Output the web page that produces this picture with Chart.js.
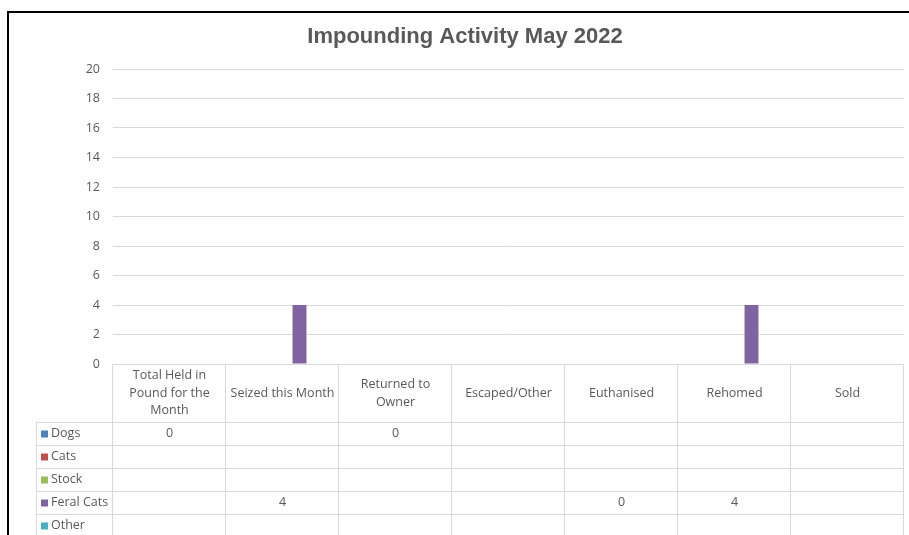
<!DOCTYPE html>
<html>
<head>
<meta charset="utf-8">
<title>Impounding Activity May 2022</title>
<script src="https://cdn.jsdelivr.net/npm/chart.js@4/dist/chart.umd.min.js"></script>
<style>
  html, body { margin: 0; padding: 0; background: #fff; }
  #wrap { position: relative; width: 909px; height: 535px; overflow: hidden; }
  #frame { position: absolute; left: 7px; top: 11px; right: -4px; bottom: -4px;
           border-top: 2px solid #000; border-left: 2px solid #000; pointer-events: none; }
  canvas { position: absolute; left: 0; top: 0; }
</style>
</head>
<body>
<div id="wrap">
  <canvas id="c" width="909" height="535"></canvas>
  <div id="frame"></div>
</div>
<script>
// Monthly impounding figures
const chartTitle = "Impounding Activity May 2022";
const categories = [
  ["Total Held in", "Pound for the", "Month"],
  "Seized this Month",
  ["Returned to", "Owner"],
  "Escaped/Other",
  "Euthanised",
  "Rehomed",
  "Sold"
];
const seriesNames = ["Dogs", "Cats", "Stock", "Feral Cats", "Other"];
const dogs      = [0, null, 0, null, null, null, null];
const cats      = [null, null, null, null, null, null, null];
const stock     = [null, null, null, null, null, null, null];
const feralCats = [null, 4, null, null, 0, 4, null];
const other     = [null, null, null, null, null, null, null];
const yTicks    = [0, 2, 4, 6, 8, 10, 12, 14, 16, 18, 20];

const seriesColors = ["#4F81BD", "#C0504D", "#9BBB59", "#8064A2", "#4BACC6"];
const textColor = "#595959";
const lineColor = "#d9d9d9";
const tableFont = "12.5px 'Open Sans', sans-serif";

const seriesValues = [dogs, cats, stock, feralCats, other];

// Title centred on the chart frame, which extends past the right edge
const frameTitle = {
  id: "frameTitle",
  afterDraw(chart) {
    const ctx = chart.ctx;
    ctx.save();
    ctx.font = "bold 22px 'Liberation Sans', Arial, sans-serif";
    ctx.fillStyle = textColor;
    ctx.textAlign = "center";
    ctx.textBaseline = "middle";
    ctx.fillText(chartTitle, 465, 37);
    ctx.restore();
  }
};

// Data table drawn beneath the plot area, aligned to the category scale
const dataTable = {
  id: "dataTable",
  afterDraw(chart) {
    const ctx = chart.ctx;
    const area = chart.chartArea;
    const xs = chart.scales.x;
    const n = categories.length;
    const colW = (area.right - area.left) / n;
    const top = area.bottom;
    const headerH = 57.5;
    const rowH = 23;
    const legendLeft = 36;
    const bottom = chart.height;

    ctx.save();
    ctx.strokeStyle = lineColor;
    ctx.lineWidth = 1;

    // horizontal rules
    for (let r = 0; r <= seriesNames.length; r++) {
      const y = Math.round(top + headerH + r * rowH) + 0.5;
      ctx.beginPath();
      ctx.moveTo(legendLeft, y);
      ctx.lineTo(area.right, y);
      ctx.stroke();
    }
    // vertical rules
    ctx.beginPath();
    ctx.moveTo(legendLeft + 0.5, Math.round(top + headerH));
    ctx.lineTo(legendLeft + 0.5, bottom);
    ctx.stroke();
    for (let i = 0; i <= n; i++) {
      const x = Math.round(xs.getPixelForValue(0) - colW / 2 + i * colW) - 0.5;
      ctx.beginPath();
      ctx.moveTo(x, top);
      ctx.lineTo(x, bottom);
      ctx.stroke();
    }

    ctx.font = tableFont;
    ctx.fillStyle = textColor;
    ctx.textAlign = "center";
    ctx.textBaseline = "middle";

    // header labels
    const lineH = 17.5;
    categories.forEach((lab, i) => {
      const lines = Array.isArray(lab) ? lab : [lab];
      const cx = xs.getPixelForValue(i);
      const cy = top + headerH / 2 + 0.5;
      lines.forEach((t, k) => {
        ctx.fillText(t, cx, cy + (k - (lines.length - 1) / 2) * lineH);
      });
    });

    // series rows: legend key + values
    seriesNames.forEach((name, r) => {
      const cy = top + headerH + r * rowH + rowH / 2 + 0.5;
      ctx.fillStyle = seriesColors[r];
      ctx.fillRect(41, Math.round(cy) - 3.5, 7, 7);
      ctx.fillStyle = textColor;
      ctx.textAlign = "left";
      ctx.fillText(name, 51, cy);
      ctx.textAlign = "center";
      seriesValues[r].forEach((v, i) => {
        if (v !== null && v !== undefined) {
          ctx.fillText(String(v), xs.getPixelForValue(i), cy);
        }
      });
    });
    ctx.restore();
  }
};

new Chart(document.getElementById("c"), {
  type: "bar",
  data: {
    labels: categories,
    datasets: seriesNames.map((name, i) => ({
      label: name,
      data: seriesValues[i],
      backgroundColor: seriesColors[i],
      borderWidth: 0,
      categoryPercentage: 0.752,
      barPercentage: 0.82
    }))
  },
  options: {
    responsive: false,
    animation: false,
    events: [],
    layout: { padding: { top: 69, right: 5, bottom: 171, left: 0 } },
    plugins: {
      legend: { display: false },
      tooltip: { enabled: false },
      title: { display: false }
    },
    scales: {
      x: { display: false },
      y: {
        min: 0,
        max: 20,
        afterFit(scale) { scale.width = 113; },
        afterBuildTicks(scale) { scale.ticks = yTicks.map(v => ({ value: v })); },
        border: { display: false },
        grid: { color: lineColor, drawTicks: false, lineWidth: 1 },
        ticks: {
          color: textColor,
          padding: 13,
          font: { family: "'Open Sans', sans-serif", size: 12.5 }
        }
      }
    }
  },
  plugins: [dataTable, frameTitle]
});
</script>
</body>
</html>
